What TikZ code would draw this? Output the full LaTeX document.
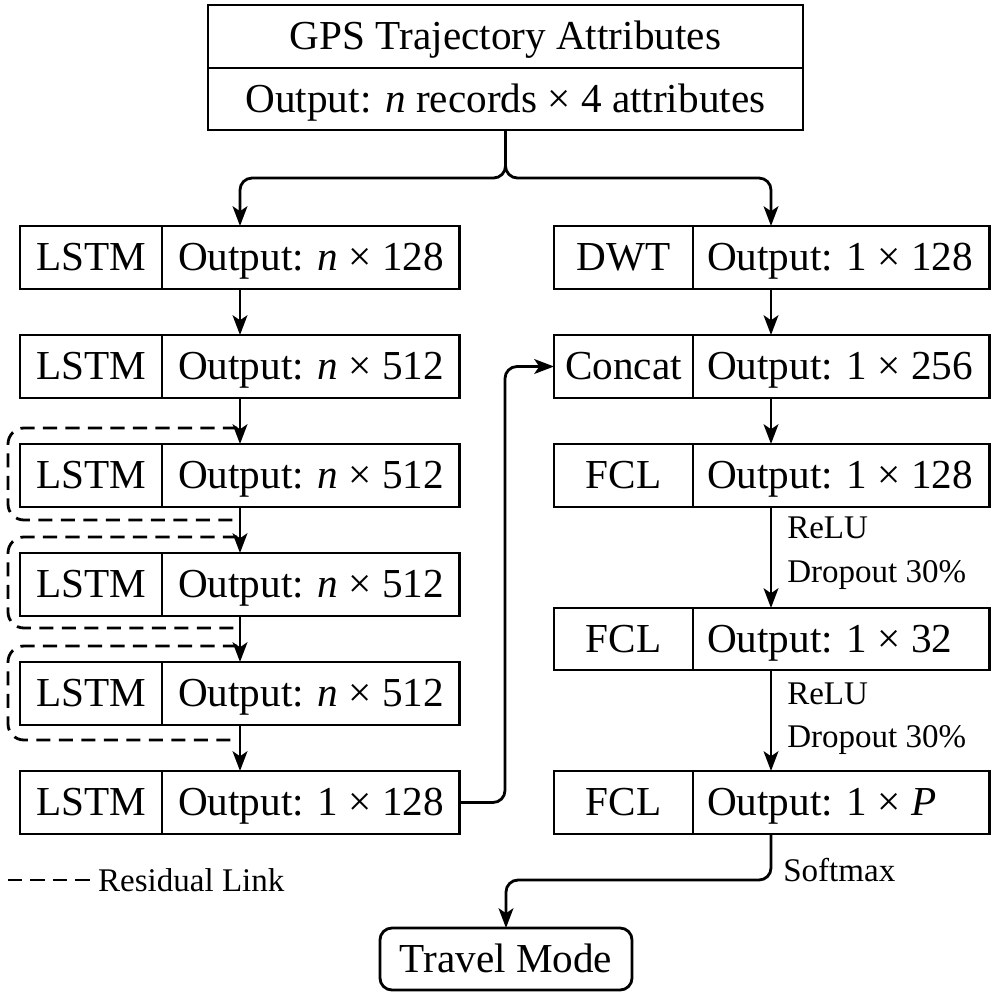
\documentclass[tikz,border=0pt]{standalone}
\usepackage{fontspec}
\setmainfont{Liberation Serif}
\usetikzlibrary{calc, positioning, arrows.meta}

\tikzset{
  blk/.style={draw, line width=2pt, minimum height=1.575cm, inner sep=0pt,
    outer sep=0pt, text height=26pt, text depth=7pt,
    font=\fontsize{29.3}{32}\selectfont},
  lblL/.style={blk, minimum width=3.55cm},
  outL/.style={blk, minimum width=7.425cm, inner xsep=0.2cm, text width=7.025cm,
    align=flush left, execute at begin node={\hspace*{0.2cm}}},
  lblR/.style={blk, minimum width=3.475cm},
  outR/.style={blk, minimum width=7.4cm, inner xsep=0.2cm, text width=7.0cm,
    align=flush left, execute at begin node={\hspace*{0.15cm}}},
  arr/.style={-{Stealth[length=14pt,width=10.5pt,inset=3.5pt]}, line width=2pt,
    rounded corners=0.3cm},
  resline/.style={line width=2pt, dash pattern=on 10pt off 6pt,
    rounded corners=0.4cm},
  note/.style={anchor=west, inner sep=0pt, font=\fontsize{23.5}{26}\selectfont},
}

\begin{document}
\begin{tikzpicture}[x=0.025cm, y=-0.025cm]

    % =================================================================
    % 1. FRAME AND COLUMN AXES
    % =================================================================
    \useasboundingbox (0,0) rectangle (996,996);
    \coordinate (cl) at (240,0);
    \coordinate (cr) at (771,0);
    \coordinate (bend) at (505,0);

    % =================================================================
    % 2. INPUT BLOCK
    % =================================================================
    \node[blk, minimum width=14.875cm] (gps) at (505.5,36.5) {GPS Trajectory Attributes};
    \node[blk, minimum width=14.875cm, minimum height=1.55cm, below=0pt of gps] (gpsout)
        {Output: \textit{n} records × 4 attributes};

    % =================================================================
    % 3. LEFT BRANCH (LSTM STACK)
    % =================================================================
    \node[lblL] (lstmA) at (91,257.5) {LSTM};
    \node[outL, right=0pt of lstmA] (outA) {Output: \textit{n} × 128};
    \node[lblL] (lstmB) at (91,366.5) {LSTM};
    \node[outL, right=0pt of lstmB] (outB) {Output: \textit{n} × 512};
    \node[lblL] (lstmC) at (91,475.5) {LSTM};
    \node[outL, right=0pt of lstmC] (outC) {Output: \textit{n} × 512};
    \node[lblL] (lstmD) at (91,584.5) {LSTM};
    \node[outL, right=0pt of lstmD] (outD) {Output: \textit{n} × 512};
    \node[lblL] (lstmE) at (91,693.5) {LSTM};
    \node[outL, right=0pt of lstmE] (outE) {Output: \textit{n} × 512};
    \node[lblL] (lstmF) at (91,802.5) {LSTM};
    \node[outL, right=0pt of lstmF] (outF) {Output: 1 × 128};

    % =================================================================
    % 4. RIGHT BRANCH (DWT + CLASSIFIER)
    % =================================================================
    \node[lblR] (dwt) at (623.5,257.5) {DWT};
    \node[outR, right=0pt of dwt] (outDwt) {Output: 1 × 128};
    \node[lblR] (concat) at (623.5,366.5) {Concat};
    \node[outR, right=0pt of concat] (outCat) {Output: 1 × 256};
    \node[lblR] (fclA) at (623.5,475.5) {FCL};
    \node[outR, right=0pt of fclA] (outFclA) {Output: 1 × 128};
    \node[lblR, minimum height=1.55cm] (fclB) at (623.5,639) {FCL};
    \node[outR, minimum height=1.55cm, right=0pt of fclB] (outFclB) {Output: 1 × 32};
    \node[lblR] (fclC) at (623.5,802.5) {FCL};
    \node[outR, right=0pt of fclC] (outFclC) {Output: 1 × \textit{P}};

    % Output node
    \node[blk, rounded corners=0.3cm, minimum width=6.3cm, minimum height=1.55cm]
        (mode) at (506,959) {Travel Mode};

    % =================================================================
    % 5. CONNECTORS
    % =================================================================
    \draw[arr] (gpsout.south) -- ++(0,48) -| (cl |- outA.north);
    \draw[arr] (gpsout.south) -- ++(0,48) -| (cr |- outDwt.north);

    \draw[arr] (cl |- outA.south) -- (cl |- outB.north);
    \draw[arr] (cl |- outB.south) -- (cl |- outC.north);
    \draw[arr] (cl |- outC.south) -- (cl |- outD.north);
    \draw[arr] (cl |- outD.south) -- (cl |- outE.north);
    \draw[arr] (cl |- outE.south) -- (cl |- outF.north);

    \draw[arr] (outF.east) -| (bend |- concat.west) -- (concat.west);

    \draw[arr] (cr |- outDwt.south) -- (cr |- outCat.north);
    \draw[arr] (cr |- outCat.south) -- (cr |- outFclA.north);
    \draw[arr] (cr |- outFclA.south) -- (cr |- outFclB.north);
    \draw[arr] (cr |- outFclB.south) -- (cr |- outFclC.north);
    \draw[arr] (cr |- outFclC.south) -- ++(0,46) -| (mode.north);

    % activation notes
    \node[note] (reluA) at (787,528) {ReLU};
    \node[note] (dropA) at (787,575) {Dropout 30\%};
    \node[note] (reluB) at (787,694) {ReLU};
    \node[note] (dropB) at (787,740) {Dropout 30\%};
    \node[note] (soft) at (783,870) {Softmax};

    % =================================================================
    % 6. RESIDUAL LINKS AND LEGEND
    % =================================================================
    \draw[resline] (237,428) -| (8,520) -- (237,520);
    \draw[resline] (237,537) -| (8,628) -- (237,628);
    \draw[resline] (237,646) -| (8,740) -- (237,740);

    \coordinate (legA) at (8,880);
    \coordinate (legB) at (95,880);
    \draw[resline] (legA) -- (legB);
    \node[note, right=2pt of legB] (legText) {Residual Link};

\end{tikzpicture}
\end{document}
